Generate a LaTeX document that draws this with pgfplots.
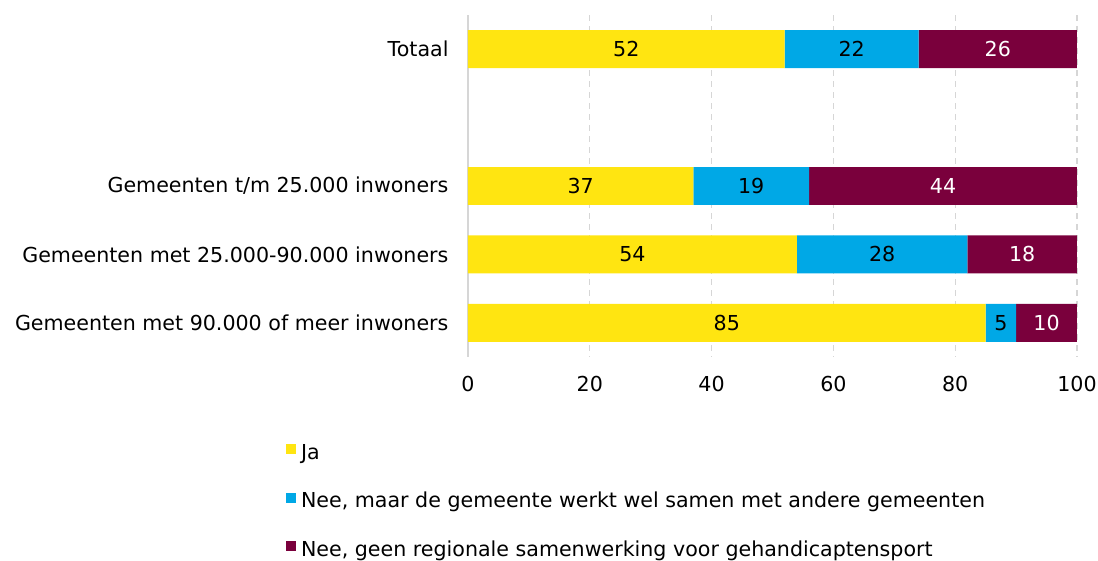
\documentclass[border=0pt]{standalone}
\usepackage{pgfplots}
\pgfplotsset{compat=1.18}
\usepackage{pgfplotstable}
\usepackage{fontspec}
\setmainfont{DejaVu Sans}

\definecolor{cja}{HTML}{FFE511}
\definecolor{cnee}{HTML}{00A8E6}
\definecolor{cgeen}{HTML}{7A003C}
\definecolor{cgrid}{HTML}{D6D6D6}

% pos: 0 = Totaal, 1 = empty row, 2..4 = size classes
\pgfplotstableread{
pos ja nee geen
0   52 22  26
2   37 19  44
3   54 28  18
4   85 5   10
}\datatable

\begin{document}
\begin{tikzpicture}[font=\fontsize{20.6}{24}\selectfont]
  \begin{axis}[
      name=ax,
      xbar stacked,
      scale only axis,
      width=609pt, height=342pt,
      xmin=0, xmax=100,
      ymin=-0.5, ymax=4.5,
      y dir=reverse,
      bar width=0.555,
      ytick={0,2,3,4},
      yticklabels={Totaal,
        Gemeenten t/m 25.000 inwoners,
        Gemeenten met 25.000-90.000 inwoners,
        Gemeenten met 90.000 of meer inwoners\hspace{7pt}},
      xtick={0,20,40,60,80,100},
      major tick length=0pt,
      axis x line*=bottom,
      axis y line*=left,
      x axis line style={draw=none},
      y axis line style={draw=cgrid, line width=1.3pt},
      xmajorgrids,
      grid style={cgrid, line width=1.3pt, dash pattern=on 6pt off 5pt},
      xticklabel style={yshift=-16pt},
      yticklabel style={xshift=-16pt},
      /pgf/number format/assume math mode=true,
      point meta=explicit,
      nodes near coords={\pgfmathprintnumber{\pgfplotspointmeta}},
      every node near coord/.append style={anchor=center},
      legend style={at={(-0.304,-0.245)}, anchor=north west,
        draw=none, fill=none, row sep=29.5pt,
        nodes={inner sep=1pt},
        /tikz/every odd column/.append style={column sep=4pt}},
      legend cell align=left,
      legend image code/.code={\fill[#1] (0pt,-2pt) rectangle (10pt,8pt);},
    ]
    \addplot[fill=cja, draw=none,
      every node near coord/.append style={text=black}]
      table[x=ja, y=pos, meta=ja] {\datatable};
    \addlegendentry{Ja}

    \addplot[fill=cnee, draw=none,
      every node near coord/.append style={text=black}]
      table[x=nee, y=pos, meta=nee] {\datatable};
    \addlegendentry{Nee, maar de gemeente werkt wel samen met andere gemeenten}

    \addplot[fill=cgeen, draw=none,
      every node near coord/.append style={text=white}]
      table[x=geen, y=pos, meta=geen] {\datatable};
    \addlegendentry{Nee, geen regionale samenwerking voor gehandicaptensport}
  \end{axis}
  \pgfresetboundingbox
  \path ([shift={(-468pt,-203pt)}]ax.south west)
    rectangle ([shift={(630pt,357pt)}]ax.south west);
\end{tikzpicture}
\end{document}
